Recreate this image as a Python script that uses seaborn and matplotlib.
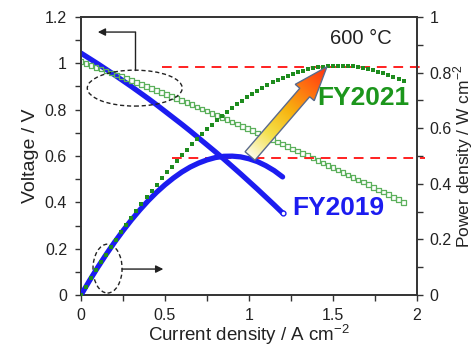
import numpy as np
import matplotlib
matplotlib.use("Agg")
import matplotlib.pyplot as plt
import seaborn as sns
from matplotlib.patches import Ellipse, Polygon
from matplotlib.colors import LinearSegmentedColormap
from matplotlib.ticker import MultipleLocator, FuncFormatter

# FY2019 cell, I-V curve
current_2019 = [0.00, 0.05, 0.10, 0.15, 0.20, 0.25, 0.30, 0.35, 0.40, 0.45, 0.50, 0.55,
                0.60, 0.65, 0.70, 0.75, 0.80, 0.85, 0.90, 0.95, 1.00, 1.05, 1.10, 1.15, 1.20]
voltage_2019 = [1.044, 1.021, 0.998, 0.974, 0.950, 0.925, 0.900, 0.874, 0.848, 0.821, 0.793, 0.765,
                0.737, 0.708, 0.678, 0.648, 0.618, 0.587, 0.555, 0.523, 0.490, 0.457, 0.423, 0.389, 0.354]

# FY2021 cell, I-V curve
current_2021 = [0.00, 0.03, 0.06, 0.09, 0.12, 0.15, 0.18, 0.21, 0.24, 0.27, 0.30, 0.33, 0.36,
                0.39, 0.42, 0.45, 0.48, 0.51, 0.54, 0.57, 0.60, 0.63, 0.66, 0.69, 0.72, 0.75,
                0.78, 0.81, 0.84, 0.87, 0.90, 0.93, 0.96, 0.99, 1.02, 1.05, 1.08, 1.11, 1.14,
                1.17, 1.20, 1.23, 1.26, 1.29, 1.32, 1.35, 1.38, 1.41, 1.44, 1.47, 1.50, 1.53,
                1.56, 1.59, 1.62, 1.65, 1.68, 1.71, 1.74, 1.77, 1.80, 1.83, 1.86, 1.89, 1.92]
voltage_2021 = [1.007, 0.999, 0.991, 0.983, 0.975, 0.967, 0.958, 0.950, 0.942, 0.934, 0.925, 0.917, 0.908,
                0.900, 0.891, 0.883, 0.874, 0.865, 0.856, 0.848, 0.839, 0.830, 0.821, 0.812, 0.803, 0.794,
                0.784, 0.775, 0.766, 0.757, 0.747, 0.738, 0.728, 0.719, 0.709, 0.700, 0.690, 0.680, 0.671,
                0.661, 0.651, 0.641, 0.631, 0.621, 0.611, 0.601, 0.591, 0.581, 0.570, 0.560, 0.550, 0.539,
                0.529, 0.518, 0.508, 0.497, 0.487, 0.476, 0.465, 0.454, 0.444, 0.433, 0.422, 0.411, 0.400]

# power density = current density x voltage
power_2019 = np.array(current_2019) * np.array(voltage_2019)
power_2021 = np.array(current_2021) * np.array(voltage_2021)

peak_2019 = 0.493
peak_2021 = 0.82

sns.set_style("ticks")
plt.rcParams['font.family'] = ['Liberation Sans', 'DejaVu Sans']
plt.rcParams['mathtext.fontset'] = 'custom'
plt.rcParams['mathtext.rm'] = 'Liberation Sans'

blue = '#1c1cf0'
green = '#1e8c1e'
green_open = '#5cb05c'
dark = '#333333'

fig = plt.figure(figsize=(4.77, 3.49), dpi=100)
ax = fig.add_axes([0.1698, 0.1547, 0.7044, 0.7966])
ax2 = ax.twinx()

# voltage curves (left axis)
sns.lineplot(x=current_2019, y=voltage_2019, color=blue, linewidth=3.8, ax=ax,
             solid_capstyle='round', zorder=3)
ax.plot(current_2019[-1], voltage_2019[-1], 'o', ms=3.5, mfc='white', mec=blue, mew=1, zorder=4)
sns.scatterplot(x=current_2021, y=voltage_2021, marker='s', s=11, facecolor='none',
                edgecolor=green_open, linewidth=0.9, ax=ax, zorder=4)

# power curves (right axis)
sns.lineplot(x=current_2019, y=power_2019, color=blue, linewidth=3.8, ax=ax2,
             solid_capstyle='round', zorder=3)
sns.scatterplot(x=current_2021, y=power_2021, marker='s', s=12, color=green,
                edgecolor=green, linewidth=0, ax=ax2, zorder=4)

ax2.plot([0.48, 2.05], [peak_2021, peak_2021], color='#ff2020', lw=1.4, ls=(0, (5, 3.5)),
         clip_on=False, zorder=2)
ax2.plot([0.54, 2.05], [peak_2019, peak_2019], color='#ff2020', lw=1.4, ls=(0, (5, 3.5)),
         clip_on=False, zorder=2)

ax.set_xlim(0, 2)
ax.set_ylim(0, 1.2)
ax2.set_ylim(0, 1)

fmt = FuncFormatter(lambda v, p: '{:g}'.format(round(v, 2)))
ax.xaxis.set_major_locator(MultipleLocator(0.5))
ax.xaxis.set_minor_locator(MultipleLocator(0.25))
ax.yaxis.set_major_locator(MultipleLocator(0.2))
ax.yaxis.set_minor_locator(MultipleLocator(0.1))
ax2.yaxis.set_major_locator(MultipleLocator(0.2))
ax2.yaxis.set_minor_locator(MultipleLocator(0.1))
for a in (ax.xaxis, ax.yaxis, ax2.yaxis):
    a.set_major_formatter(fmt)

ax.tick_params(which='both', direction='out', length=4, width=1, color=dark,
               labelsize=11.5, labelcolor='#222222', top=False, right=False)
ax.tick_params(axis='x', pad=5)
ax.tick_params(axis='y', pad=6)
ax2.tick_params(which='both', direction='out', length=4, width=1, color=dark,
                labelsize=11.5, labelcolor='#222222', pad=5)

for a in (ax, ax2):
    for s in a.spines.values():
        s.set_color(dark)
        s.set_linewidth(1.2)

ax.set_xlabel(r'Current density / A cm$^{-2}$', fontsize=13.5, color='#222222', labelpad=0)
ax.set_ylabel('Voltage / V', fontsize=14, color='#222222', labelpad=4)
ax2.set_ylabel(r'Power density / W cm$^{-2}$', fontsize=12.5, color='#222222', labelpad=0)

# dashed ellipses with pointer arrows
ax.add_patch(Ellipse((0.32, 0.893), 0.565, 0.155, fill=False, ls=(0, (3, 2)), lw=1,
                     edgecolor='#222222', zorder=5))
ax.plot([0.32, 0.32], [0.97, 1.135], color='#222222', lw=1, zorder=5)
ax.annotate('', xy=(0.10, 1.135), xytext=(0.325, 1.135),
            arrowprops=dict(arrowstyle='-|>', color='#222222', lw=1, mutation_scale=11,
                            shrinkA=0, shrinkB=0), zorder=5)
ax.add_patch(Ellipse((0.158, 0.114), 0.173, 0.211, fill=False, ls=(0, (3, 2)), lw=1,
                     edgecolor='#222222', zorder=5))
ax.annotate('', xy=(0.49, 0.112), xytext=(0.244, 0.112),
            arrowprops=dict(arrowstyle='-|>', color='#222222', lw=1, mutation_scale=11,
                            shrinkA=0, shrinkB=0), zorder=5)

# gradient arrow FY2019 -> FY2021
tail = ax2.transData.transform((1.006, 0.50))
tip = ax2.transData.transform((1.464, 0.821))
L = np.linalg.norm(tip - tail)
u = (tip - tail) / L
n = np.array([-u[1], u[0]])
hl, hw, sw = 34, 12.5, 6.5
base = tail + u * (L - hl)
pts = np.array([tail + n * sw, base + n * sw, base + n * hw, tip,
                base - n * hw, base - n * sw, tail - n * sw])
pts_ax = ax2.transAxes.inverted().transform(pts)
poly = Polygon(pts_ax, closed=True, transform=ax2.transAxes, facecolor='none',
               edgecolor='#5a6a8c', lw=1, zorder=7)
ax2.add_patch(poly)
x0, y0 = pts_ax.min(0)
x1, y1 = pts_ax.max(0)
gx, gy = np.meshgrid(np.linspace(x0, x1, 200), np.linspace(y0, y1, 200))
disp = ax2.transAxes.transform(np.column_stack([gx.ravel(), gy.ravel()]))
t = ((disp - tail) @ u / L).reshape(gx.shape)
cmap = LinearSegmentedColormap.from_list('arr', ['#fdfbe6', '#f4e04a', '#f7b410', '#ff7010', '#ff3010'])
im = ax2.imshow(t, cmap=cmap, vmin=0, vmax=1, extent=(x0, x1, y0, y1), origin='lower',
                transform=ax2.transAxes, aspect='auto', zorder=6)
im.set_clip_path(poly)
ax.set_xlim(0, 2)
ax.set_ylim(0, 1.2)
ax2.set_ylim(0, 1)

ax.text(1.667, 1.109, '600 °C', fontsize=14.5, color='#222222', ha='center', va='center')
ax2.text(1.679, 0.707, 'FY2021', fontsize=19, fontweight='bold', color='#1c961c',
         ha='center', va='center', zorder=8)
ax2.text(1.530, 0.313, 'FY2019', fontsize=19, fontweight='bold', color=blue,
         ha='center', va='center', zorder=8)

fig.savefig('out.png', dpi=100)
